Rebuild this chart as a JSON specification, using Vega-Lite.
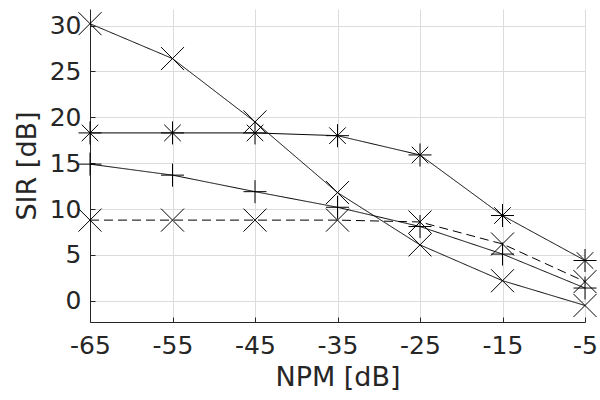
{
  "$schema": "https://vega.github.io/schema/vega-lite/v6.json",
  "width": 495,
  "height": 313,
  "autosize": "none",
  "padding": {"left": 90, "top": 9, "right": 15, "bottom": 78},
  "background": "white",
  "config": {
    "view": {"stroke": null},
    "font": "DejaVu Sans",
    "axis": {
      "labelFont": "DejaVu Sans",
      "titleFont": "DejaVu Sans",
      "labelFontSize": 25,
      "titleFontSize": 27,
      "labelColor": "#262626",
      "titleColor": "#262626",
      "titleFontWeight": "normal",
      "domainColor": "#262626",
      "tickColor": "#262626",
      "gridColor": "#dcdcdc",
      "gridWidth": 1,
      "tickSize": -5
    }
  },
  "data": {
    "values": [
      {"npm": -65, "sir": 30.2, "series": "A"},
      {"npm": -55, "sir": 26.4, "series": "A"},
      {"npm": -45, "sir": 19.5, "series": "A"},
      {"npm": -35, "sir": 11.8, "series": "A"},
      {"npm": -25, "sir": 6.1, "series": "A"},
      {"npm": -15, "sir": 2.2, "series": "A"},
      {"npm": -5, "sir": -0.5, "series": "A"},
      {"npm": -65, "sir": 18.3, "series": "B"},
      {"npm": -55, "sir": 18.3, "series": "B"},
      {"npm": -45, "sir": 18.3, "series": "B"},
      {"npm": -35, "sir": 18.0, "series": "B"},
      {"npm": -25, "sir": 15.9, "series": "B"},
      {"npm": -15, "sir": 9.3, "series": "B"},
      {"npm": -5, "sir": 4.4, "series": "B"},
      {"npm": -65, "sir": 14.9, "series": "C"},
      {"npm": -55, "sir": 13.7, "series": "C"},
      {"npm": -45, "sir": 11.9, "series": "C"},
      {"npm": -35, "sir": 10.2, "series": "C"},
      {"npm": -25, "sir": 8.1, "series": "C"},
      {"npm": -15, "sir": 5.1, "series": "C"},
      {"npm": -5, "sir": 1.4, "series": "C"},
      {"npm": -65, "sir": 8.8, "series": "D"},
      {"npm": -55, "sir": 8.8, "series": "D"},
      {"npm": -45, "sir": 8.8, "series": "D"},
      {"npm": -35, "sir": 8.8, "series": "D"},
      {"npm": -25, "sir": 8.6, "series": "D"},
      {"npm": -15, "sir": 6.2, "series": "D"},
      {"npm": -5, "sir": 2.1, "series": "D"}
    ]
  },
  "encoding": {
    "x": {
      "field": "npm", "type": "quantitative",
      "scale": {"domain": [-65, -5], "nice": false, "zero": false},
      "axis": {"values": [-65, -55, -45, -35, -25, -15, -5], "title": "NPM [dB]", "labelPadding": 16, "titlePadding": 6, "labelFlush": false, "labelExpr": "'' + datum.value"}
    },
    "y": {
      "field": "sir", "type": "quantitative",
      "scale": {"domain": [-2.3, 31.8], "nice": false, "zero": false},
      "axis": {"values": [0, 5, 10, 15, 20, 25, 30], "title": "SIR [dB]", "labelPadding": 14, "titlePadding": 8}
    }
  },
  "layer": [
    {
      "mark": {"type": "line", "strokeWidth": 1, "color": "black", "clip": false},
      "encoding": {
        "detail": {"field": "series"},
        "strokeDash": {
          "field": "series", "type": "nominal",
          "scale": {"domain": ["A", "B", "C", "D"], "range": [[1, 0], [1, 0], [1, 0], [9, 5]]},
          "legend": null
        }
      }
    },
    {
      "mark": {"type": "point", "filled": false, "stroke": "black", "strokeWidth": 1, "size": 530, "opacity": 1, "clip": false},
      "encoding": {
        "shape": {
          "field": "series", "type": "nominal",
          "scale": {"domain": ["A", "B", "C", "D"], "range": [
            "M-1,-1L1,1M-1,1L1,-1",
            "M-0.72,-0.72L0.72,0.72M-0.72,0.72L0.72,-0.72M-1,0L1,0M0,-1L0,1",
            "M-1,0L1,0M0,-1L0,1",
            "M-1,-1L1,1M-1,1L1,-1"
          ]},
          "legend": null
        }
      }
    }
  ]
}
